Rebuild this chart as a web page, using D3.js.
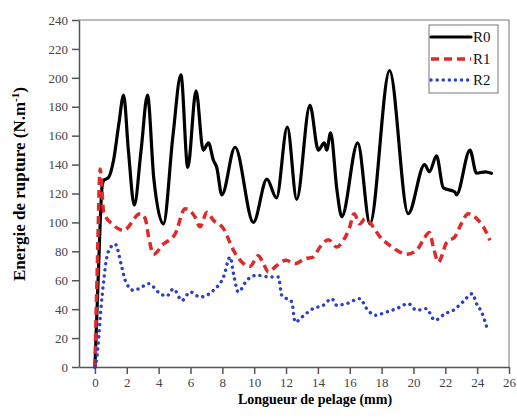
<!DOCTYPE html>
<html lang="fr">
<head>
<meta charset="UTF-8">
<title>Energie de rupture</title>
<style>
body { margin: 0; background: #fff; }
svg text { font-family: "Liberation Serif", "Times New Roman", serif; }
</style>
</head>
<body>
<svg></svg>
<script src="https://d3js.org/d3.v7.min.js"></script>
<script>
// valeurs : [longueur (mm), energie (N/m)]
var r0 = [[0,0],[0.2,60],[0.45,125],[0.55,129],[0.85,131],[1.17,143],[1.5,168],[1.8,188],[2.1,150],[2.47,112],[2.9,150],[3.3,188],[3.7,130],[4.3,99],[4.9,160],[5.4,202],[5.83,138],[6.35,191],[6.8,150],[7.13,155],[7.44,143],[7.65,138],[7.97,119],[8.8,152],[9.95,100],[10.8,130],[11.4,117],[12.08,166],[12.67,116],[13.5,181],[14.03,150],[14.4,155],[14.55,150],[14.8,162],[15.2,122],[15.5,104],[16.5,155],[17.27,99],[18.5,205],[19.67,106],[20.7,140],[21.0,135],[21.45,146],[21.87,124],[22.6,121],[22.7,119],[23.55,150],[23.96,134],[24.5,135],[24.9,134]];
var r1 = [[0,0],[0.15,70],[0.33,137],[0.55,107],[1.17,98],[1.8,94.5],[2.84,106],[3.16,102.6],[3.37,90],[3.68,78],[4.3,85],[5.04,92],[5.66,109.5],[6.29,103.7],[6.6,97],[7.03,107],[7.44,101.5],[8.07,95.7],[8.7,80.7],[9.22,72.6],[9.74,69.6],[10.26,77],[10.58,71.5],[10.9,65.7],[11.4,70],[12.0,73.8],[12.57,71.5],[13.2,75],[13.7,76],[14.13,83],[14.66,88],[15.18,83],[15.6,87.6],[16.0,96.8],[16.27,106],[16.64,99],[16.96,102.6],[17.48,96.8],[17.9,90],[18.53,84],[19.15,79.5],[19.57,78],[20.2,80.7],[20.6,87.6],[21.0,93],[21.25,83],[21.56,72.6],[22.1,86.4],[22.6,90],[23.0,99],[23.44,106],[24.07,101.5],[24.4,96.8],[24.8,87.6]];
var r2 = [[0,0],[0.1,5],[0.44,48],[0.75,76],[1.0,83],[1.27,85],[1.69,69],[1.9,60],[2.42,53],[2.9,55],[3.36,57.7],[4.1,50.7],[4.5,49],[4.93,54],[5.46,46],[5.98,51.9],[6.6,48.4],[7.44,53],[8.07,62.2],[8.49,76],[8.7,64.6],[9.0,51.9],[9.54,60],[10.16,63.4],[11.0,62.2],[11.52,62.2],[11.73,49.6],[12.36,45],[12.57,31],[13.0,34.6],[13.7,40.4],[14.34,42.7],[14.87,47.3],[15.18,42.7],[15.8,43.8],[16.64,47.3],[17.06,40.4],[17.6,35.8],[18.3,38],[18.95,40.4],[19.67,43.8],[20.2,39.2],[20.8,40.4],[21.35,32.3],[21.98,36.9],[22.5,39.2],[23.1,45],[23.7,50.7],[23.96,43.8],[24.28,38],[24.6,27.7]];
var seriesNames = ["R0", "R1", "R2"];
var xTicks = d3.range(0, 27, 2);
var yTicks = d3.range(0, 241, 20);

var svgWidth = 517, svgHeight = 420;
var plotLeft = 79, plotRight = 509, plotTop = 20, plotBottom = 367;

var svg = d3.select("svg").attr("width", svgWidth).attr("height", svgHeight);

var x = d3.scaleLinear().domain([-1, 26]).range([plotLeft, plotRight]);
var y = d3.scaleLinear().domain([0, 240]).range([plotBottom, plotTop]);

// cadre haut et droite
svg.append("path")
  .attr("d", "M" + plotLeft + "," + plotTop + "H" + plotRight + "V" + plotBottom)
  .attr("fill", "none").attr("stroke", "#777").attr("stroke-width", 1);

var gx = svg.append("g")
  .attr("transform", "translate(0," + plotBottom + ")")
  .call(d3.axisBottom(x).tickValues(xTicks).tickSize(7).tickPadding(4).tickSizeOuter(0));
var gy = svg.append("g")
  .attr("transform", "translate(" + plotLeft + ",0)")
  .call(d3.axisLeft(y).tickValues(yTicks).tickSize(7).tickPadding(4).tickSizeOuter(0));

[gx, gy].forEach(function(g) {
  g.attr("font-family", null);
  g.select(".domain").attr("stroke", "#555").attr("stroke-width", 1.5);
  g.selectAll(".tick line").attr("stroke", "#555").attr("stroke-width", 1.5);
  g.selectAll(".tick text").attr("fill", "#444")
    .style("font-family", "'Liberation Serif', serif").style("font-size", "13px");
});

svg.append("text")
  .attr("x", 315).attr("y", 404)
  .attr("text-anchor", "middle")
  .style("font-size", "14px").style("font-weight", "bold")
  .text("Longueur de pelage (mm)");

var yl = svg.append("text")
  .attr("transform", "translate(25,184) rotate(-90)")
  .attr("text-anchor", "middle")
  .style("font-size", "17px").style("font-weight", "bold");
yl.append("tspan").text("Energie de rupture (N.m");
yl.append("tspan").attr("dy", -6).style("font-size", "11px").text("-1");
yl.append("tspan").attr("dy", 6).text(")");

var line = d3.line()
  .x(function(d) { return x(d[0]); })
  .y(function(d) { return y(d[1]); })
  .curve(d3.curveMonotoneX);

var styles = [
  { color: "#000", width: 3.2, dash: null, cap: "round" },
  { color: "#dd2a2a", width: 3.5, dash: "8,5", cap: "butt" },
  { color: "#2e40c4", width: 3.4, dash: "0.1,6", cap: "round" }
];

[r0, r1, r2].forEach(function(data, i) {
  var s = styles[i];
  svg.append("path")
    .datum(data)
    .attr("fill", "none")
    .attr("stroke", s.color)
    .attr("stroke-width", s.width)
    .attr("stroke-linejoin", "round")
    .attr("stroke-linecap", s.cap)
    .attr("stroke-dasharray", s.dash)
    .attr("d", line);
});

// legende
var lg = svg.append("g");
lg.append("rect")
  .attr("x", 429).attr("y", 25).attr("width", 69).attr("height", 68)
  .attr("fill", "#fff").attr("stroke", "#777").attr("stroke-width", 1);
var rowsY = [37, 59, 80];
seriesNames.forEach(function(name, i) {
  var s = styles[i];
  lg.append("line")
    .attr("x1", 431).attr("x2", 471).attr("y1", rowsY[i]).attr("y2", rowsY[i])
    .attr("stroke", s.color).attr("stroke-width", s.width)
    .attr("stroke-linecap", s.cap).attr("stroke-dasharray", s.dash);
  lg.append("text")
    .attr("x", 473).attr("y", rowsY[i] + 5)
    .style("font-size", "15px").attr("fill", "#111")
    .text(name);
});
</script>
</body>
</html>
